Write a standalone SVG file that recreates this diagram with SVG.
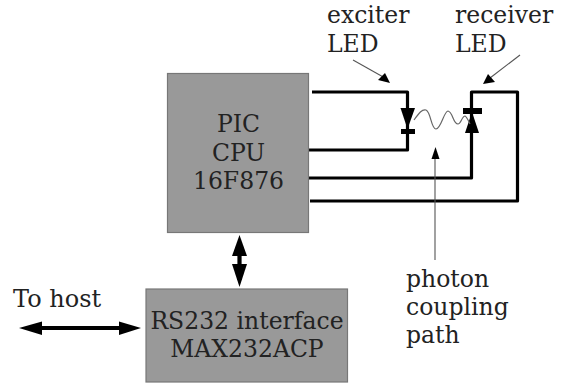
<svg xmlns="http://www.w3.org/2000/svg" width="565" height="383" viewBox="0 0 565 383">
<style>
text{font-family:"DejaVu Serif",serif;font-size:23.500px;fill:#222}
.m{text-anchor:middle}
.box{fill:#999;stroke:#777;stroke-width:1.2}
.w{fill:none;stroke:#000;stroke-width:3.2;stroke-linejoin:round}
.s{fill:none;stroke:#000;stroke-width:4.200}
.t{fill:none;stroke:#666;stroke-width:1.2}
.th{fill:none;stroke:#555;stroke-width:1.1}
</style>
<rect width="565" height="383" fill="#fff"/>
<g id="connectors">
<path class="w" d="M312 92H407.500V150H308"/>
<path class="w" d="M307 178H471.500V92H517.500V201H310"/>
<path class="s" d="M239.500 245V280"/>
<path class="s" d="M30 328H130"/>
<polygon points="400.500,108 415,108 407.500,129"/>
<rect x="401" y="129" width="14" height="5"/>
<rect x="463" y="108" width="19" height="6"/>
<polygon points="472,112 465,133 479,133"/>
<polygon points="239.500,235 232,256 247,256"/>
<polygon points="239.500,287 232,264 247,264"/>
<polygon points="19,328 42,321.500 42,335"/>
<polygon points="141,328 119,321.500 119,335"/>
<path class="th" d="M353 60L385 78"/>
<polygon points="390,83 378,80 385,73"/>
<path class="th" d="M520 55L490 78"/>
<polygon points="483,84 488,74 495,82"/>
<path class="th" d="M435 260V155"/>
<polygon points="435.500,147 431.500,159 439.500,159"/>
<path class="t" d="M414 120C419 113 422 109 426 110C431 112 431 129 436 129C441 129 444 111 448 111C453 112 453 124 458 124C461 124 462 116 465 116C467 117 468 120 470 124"/>
</g>
<g id="pic"><rect class="box" x="167.500" y="73.500" width="141" height="159"/>
<text class="m" x="238.500" y="132">PIC</text><text class="m" x="238.500" y="161">CPU</text><text class="m" x="238.500" y="189">16F876</text></g>
<g id="rs232"><rect class="box" x="146" y="289" width="201.500" height="93"/>
<text class="m" x="247" y="329">RS232 interface</text><text class="m" x="247" y="357">MAX232ACP</text></g>
<g id="labels">
<text x="13" y="307" style="font-size:24px">To host</text>
<text x="327" y="23">exciter</text><text x="327" y="52">LED</text>
<text x="455" y="23">receiver</text><text x="455" y="52">LED</text>
<text x="406" y="287">photon</text><text x="406" y="315">coupling</text><text x="406" y="343">path</text>
</g>
</svg>
